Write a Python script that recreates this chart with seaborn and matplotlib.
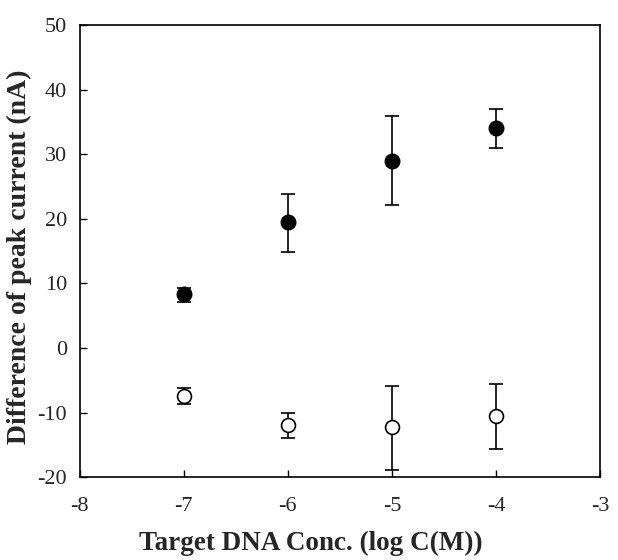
import matplotlib
matplotlib.use("Agg")
import matplotlib.pyplot as plt
import seaborn as sns
import pandas as pd

x_vals = [-7, -6, -5, -4]
filled_y = [8.3, 19.5, 29.0, 34.0]
filled_lo = [7.2, 14.8, 22.2, 31.0]
filled_hi = [9.3, 23.8, 36.0, 37.0]
open_y = [-7.4, -11.9, -12.3, -10.6]
open_lo = [-8.7, -14.0, -18.9, -15.6]
open_hi = [-6.2, -10.0, -5.9, -5.6]

x_ticks = [-8, -7, -6, -5, -4, -3]
y_ticks = [-20, -10, 0, 10, 20, 30, 40, 50]

sns.set_style("white")
plt.rcParams['font.family'] = ['Liberation Serif', 'DejaVu Serif']

fig = plt.figure(figsize=(6.18, 5.6), dpi=100)
ax = fig.add_axes([0.129, 0.148, 0.842, 0.807])

df_f = pd.DataFrame({"x": x_vals, "y": filled_y})
df_o = pd.DataFrame({"x": x_vals, "y": open_y})

ax.errorbar(x_vals, filled_y,
            yerr=[[y - l for y, l in zip(filled_y, filled_lo)], [h - y for y, h in zip(filled_y, filled_hi)]],
            fmt='none', ecolor='black', elinewidth=1.2, capsize=5, capthick=1.2, zorder=2)
ax.errorbar(x_vals, open_y,
            yerr=[[y - l for y, l in zip(open_y, open_lo)], [h - y for y, h in zip(open_y, open_hi)]],
            fmt='none', ecolor='black', elinewidth=1.2, capsize=5, capthick=1.2, zorder=2)

sns.scatterplot(data=df_f, x="x", y="y", ax=ax, color='black', s=110, marker='o',
                edgecolor='black', linewidth=1, zorder=3)
sns.scatterplot(data=df_o, x="x", y="y", ax=ax, facecolor='white', s=100, marker='o',
                edgecolor='black', linewidth=1.2, zorder=3)

ax.set_xlim(-8, -3)
ax.set_ylim(-20, 50)
ax.set_xticks(x_ticks)
ax.set_yticks(y_ticks)
ax.set_xticklabels([str(t) for t in x_ticks], fontsize=16)
ax.set_yticklabels([str(t) for t in y_ticks], fontsize=16)
ax.tick_params(axis='x', direction='in', length=5, width=1, color='black', pad=14,
               bottom=True, top=False)
ax.tick_params(axis='y', direction='in', length=5, width=1, color='black', pad=9,
               left=True, right=False)
for s in ax.spines.values():
    s.set_color('black')
    s.set_linewidth(1.2)

ax.set_xlabel("Target DNA Conc. (log C(M))", fontsize=19.5, fontweight='bold')
ax.set_ylabel("Difference of peak current (nA)", fontsize=20, fontweight='bold')
ax.xaxis.set_label_coords(0.444, -0.12)
ax.yaxis.set_label_coords(-0.092, 0.487)

fig.savefig("out.png", dpi=100)
